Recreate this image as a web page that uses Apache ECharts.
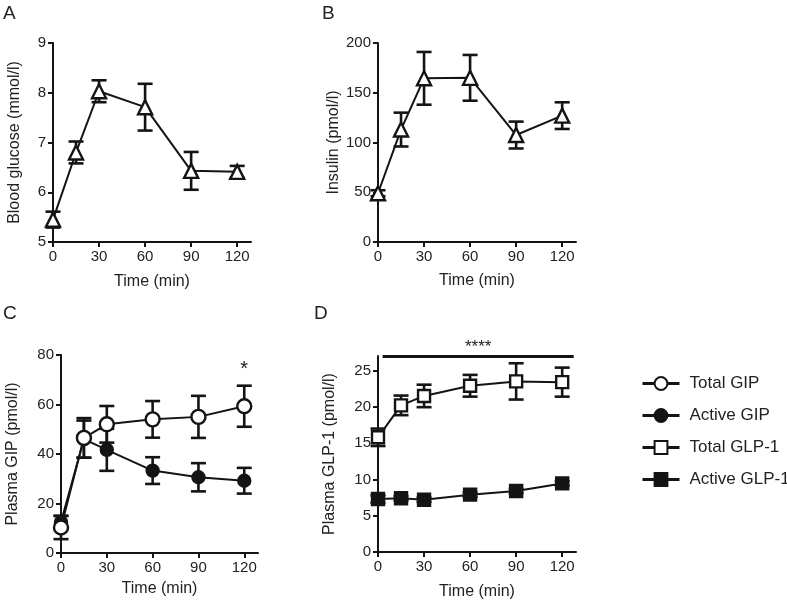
<!DOCTYPE html>
<html>
<head>
<meta charset="utf-8">
<script src="https://cdn.jsdelivr.net/npm/echarts@6/dist/echarts.min.js"></script>
<style>
html,body{margin:0;padding:0;background:#fff;}
#chart{width:787px;height:601px;}
</style>
</head>
<body>
<div id="chart"></div>
<script>
// ---- data ----
const times = [0, 15, 30, 60, 90, 120];
const xTicks = [0, 30, 60, 90, 120];

const glucoseMean = [5.45, 6.80, 8.03, 7.71, 6.43, 6.41];
const glucoseSem  = [0.16, 0.22, 0.22, 0.47, 0.38, 0.12];

const insulinMean = [49, 113, 164.5, 165, 107.5, 127];
const insulinSem  = [3, 17, 26.5, 23, 13.5, 13.4];

const totalGipMean  = [10.3, 46.5, 52, 54, 55, 59.3];
const totalGipSem   = [4.7, 8, 7.4, 7.4, 8.5, 8.3];
const activeGipMean = [12.5, 46, 41.7, 33.3, 30.6, 29.2];
const activeGipSem  = [2.5, 7.5, 8.5, 5.4, 5.7, 5.2];

const totalGlpMean  = [15.8, 20.2, 21.5, 22.9, 23.5, 23.4];
const totalGlpSem   = [1.2, 1.35, 1.55, 1.5, 2.5, 2.0];
const activeGlpMean = [7.3, 7.4, 7.2, 7.9, 8.4, 9.45];
const activeGlpSem  = [0.5, 0.3, 0.3, 0.3, 0.3, 0.3];

const gipYTicks = [0, 20, 40, 60, 80];
const glpYTicks = [0, 5, 10, 15, 20, 25];

const gipStar = [120, 74];
const glpBar = [[3, 27], [127.5, 27]];

const panelLetters = ['A', 'B', 'C', 'D'];
const legendNames = ['Total GIP', 'Active GIP', 'Total GLP-1', 'Active GLP-1'];

// ---- helpers ----
const INK = '#141414';
const FONT = '"Liberation Sans", Arial, Helvetica, sans-serif';

function pts(mean) { return times.map((t, i) => [t, mean[i]]); }
function errData(mean, sem) { return times.map((t, i) => [t, mean[i] - sem[i], mean[i] + sem[i]]); }

function errSeries(idx, mean, sem) {
  return {
    type: 'custom', xAxisIndex: idx, yAxisIndex: idx, z: 2, clip: false,
    silent: true, legendHoverLink: false,
    data: errData(mean, sem),
    encode: { x: 0, y: [1, 2] },
    renderItem: function (params, api) {
      const x = api.value(0), lo = api.value(1), hi = api.value(2);
      const a = api.coord([x, hi]), b = api.coord([x, lo]);
      const w = 7.5;
      const st = { stroke: INK, lineWidth: 2.6 };
      return {
        type: 'group',
        children: [
          { type: 'line', shape: { x1: a[0], y1: a[1], x2: b[0], y2: b[1] }, style: st },
          { type: 'line', shape: { x1: a[0] - w, y1: a[1], x2: a[0] + w, y2: a[1] }, style: st },
          { type: 'line', shape: { x1: b[0] - w, y1: b[1], x2: b[0] + w, y2: b[1] }, style: st }
        ]
      };
    }
  };
}

function lineSeries(idx, name, mean, symbol, size, filled, z) {
  return {
    type: 'line', name: name, xAxisIndex: idx, yAxisIndex: idx, z: z,
    data: pts(mean), symbol: symbol, symbolSize: size, showSymbol: true,
    lineStyle: { color: INK, width: 2 },
    itemStyle: { color: filled ? INK : '#fff', borderColor: INK, borderWidth: 2.4 },
    emphasis: { disabled: true },
    clip: false, animation: false
  };
}

const grids = [
  { left: 53, top: 43, width: 198, height: 199 },
  { left: 378, top: 43, width: 198, height: 199 },
  { left: 61, top: 355, width: 197, height: 198 },
  { left: 378, top: 356, width: 198, height: 198 }
];

const yNames = ['Blood glucose (mmol/l)', 'Insulin (pmol/l)', 'Plasma GIP (pmol/l)', 'Plasma GLP-1 (pmol/l)'];
const yNameGaps = [30, 36, 40, 40];
const xNameGaps = [32, 31, 28, 32];
const yRanges = [[5, 9, 1], [0, 200, 50], [0, 80, 20], [0, 27, 5]];
const yCustom = [null, null, gipYTicks, glpYTicks];

const axisLineStyle = { show: true, lineStyle: { color: INK, width: 2 } };

const xAxes = grids.map((g, i) => ({
  type: 'value', gridIndex: i, min: 0, max: 129,
  name: 'Time (min)', nameLocation: 'middle', nameGap: xNameGaps[i],
  nameTextStyle: { fontSize: 16, color: '#222', fontFamily: FONT },
  axisLine: axisLineStyle,
  axisTick: { show: true, inside: false, length: 5, lineStyle: { color: INK, width: 2 }, customValues: xTicks },
  axisLabel: { fontSize: 15, color: '#222', fontFamily: FONT, margin: 7, customValues: xTicks },
  splitLine: { show: false }
}));

const yAxes = grids.map((g, i) => {
  const r = yRanges[i];
  const ax = {
    type: 'value', gridIndex: i, min: r[0], max: r[1], interval: r[2],
    name: yNames[i], nameLocation: 'middle', nameGap: yNameGaps[i],
    nameTextStyle: { fontSize: 16, color: '#222', fontFamily: FONT },
    axisLine: axisLineStyle,
    axisTick: { show: true, length: 5, lineStyle: { color: INK, width: 2 } },
    axisLabel: { fontSize: 15, color: '#222', fontFamily: FONT, margin: 7 },
    splitLine: { show: false }
  };
  if (yCustom[i]) {
    ax.axisTick.customValues = yCustom[i];
    ax.axisLabel.customValues = yCustom[i];
  }
  return ax;
});

const letterPos = [[3, 4], [322, 4], [3, 304], [314, 304]];
const titles = panelLetters.map((t, i) => ({
  text: t, left: letterPos[i][0], top: letterPos[i][1], padding: 0,
  textStyle: { fontSize: 19, fontWeight: 'normal', color: '#222', fontFamily: FONT }
}));

const totalGip = lineSeries(2, legendNames[0], totalGipMean, 'circle', 14, false, 5);
totalGip.markPoint = {
  symbol: 'circle', symbolSize: 1, silent: true,
  itemStyle: { color: 'rgba(0,0,0,0)' },
  label: { show: true, formatter: '*', position: 'inside', fontSize: 20, color: '#222', fontFamily: FONT },
  data: [{ coord: gipStar }]
};

const totalGlp = lineSeries(3, legendNames[2], totalGlpMean, 'rect', 12, false, 5);
totalGlp.markLine = {
  symbol: ['none', 'none'], silent: true, animation: false,
  lineStyle: { color: INK, width: 3, type: 'solid' },
  label: { show: true, position: 'middle', formatter: '****', fontSize: 17, color: '#222', fontFamily: FONT, distance: 0 },
  data: [[{ coord: glpBar[0] }, { coord: glpBar[1] }]]
};

const option = {
  animation: false,
  backgroundColor: '#fff',
  title: titles,
  grid: grids,
  xAxis: xAxes,
  yAxis: yAxes,
  legend: {
    data: legendNames, orient: 'vertical', left: 636, top: 370,
    itemWidth: 37, itemHeight: 16, itemGap: 15,
    selectedMode: false,
    lineStyle: { width: 3 },
    textStyle: { fontSize: 17, color: '#222', fontFamily: FONT, padding: [0, 0, 0, 5] }
  },
  series: [
    errSeries(0, glucoseMean, glucoseSem),
    lineSeries(0, 'Blood glucose', glucoseMean, 'triangle', 14, false, 5),
    errSeries(1, insulinMean, insulinSem),
    lineSeries(1, 'Insulin', insulinMean, 'triangle', 14, false, 5),
    errSeries(2, activeGipMean, activeGipSem),
    errSeries(2, totalGipMean, totalGipSem),
    lineSeries(2, legendNames[1], activeGipMean, 'circle', 12, true, 4),
    totalGip,
    errSeries(3, activeGlpMean, activeGlpSem),
    errSeries(3, totalGlpMean, totalGlpSem),
    lineSeries(3, legendNames[3], activeGlpMean, 'rect', 12, true, 4),
    totalGlp
  ]
};

const chart = echarts.init(document.getElementById('chart'), null, { renderer: 'canvas' });
chart.setOption(option);
</script>
</body>
</html>
